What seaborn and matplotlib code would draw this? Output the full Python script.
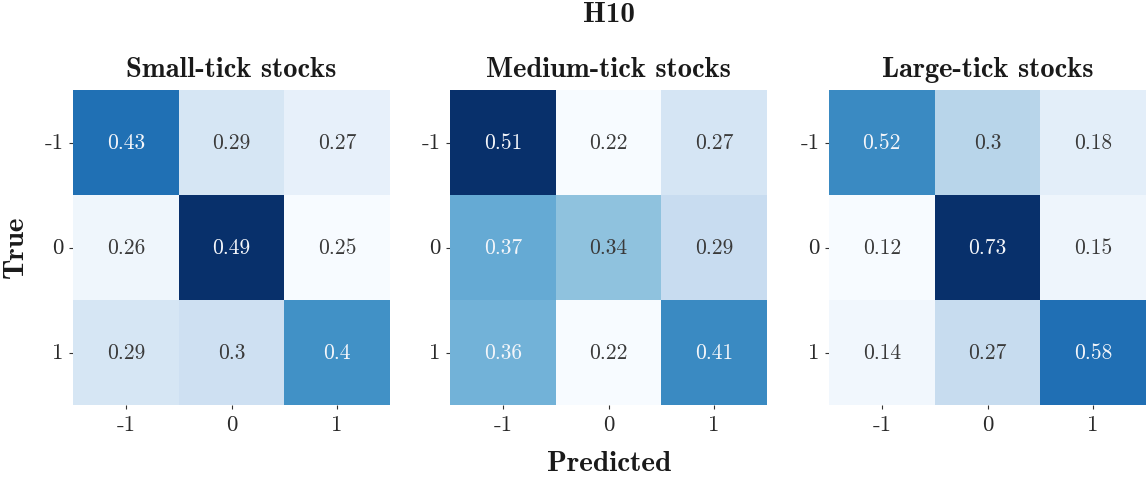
import numpy as np
import matplotlib
matplotlib.use("Agg")
import matplotlib.pyplot as plt
import seaborn as sns

labels = ["-1", "0", "1"]
titles = ["Small-tick stocks", "Medium-tick stocks", "Large-tick stocks"]
small = [[0.43, 0.29, 0.27], [0.26, 0.49, 0.25], [0.29, 0.3, 0.4]]
medium = [[0.51, 0.22, 0.27], [0.37, 0.34, 0.29], [0.36, 0.22, 0.41]]
large = [[0.52, 0.3, 0.18], [0.12, 0.73, 0.15], [0.14, 0.27, 0.58]]
matrices = [small, medium, large]

sns.set_theme(style="white")
plt.rcParams['font.family'] = ['cmr10', 'DejaVu Serif']
plt.rcParams['axes.unicode_minus'] = False
plt.rcParams['mathtext.fontset'] = 'cm'

fig = plt.figure(figsize=(11.46, 4.81), dpi=100)
lefts = [73, 450, 829]
for i, (m, t) in enumerate(zip(matrices, titles)):
    ax = fig.add_axes([lefts[i] / 1146, 75 / 481, 317 / 1146, 315 / 481])
    sns.heatmap(np.array(m), ax=ax, cmap="Blues", annot=True, fmt="g", cbar=False,
                annot_kws={"fontsize": 15.5, "family": "cmr10"},
                xticklabels=labels, yticklabels=labels)
    for txt in ax.texts:
        c = matplotlib.colors.to_rgb(txt.get_color())
        if sum(c) < 1.5:
            txt.set_color('#3a3a3a')
        else:
            txt.set_color('#f4f6fa')
    ax.set_title(t, fontsize=20.5, family="cmb10", pad=10, color='#1a1a1a')
    ax.tick_params(axis='both', labelsize=16.5, length=3, left=True, bottom=True, width=0.8,
                   color='#333333', pad=4, labelcolor='#2a2a2a')
    ax.set_yticklabels(labels, rotation=0, family="cmr10")
    ax.set_xticklabels(labels, family="cmr10")
    for s in ax.spines.values():
        s.set_visible(False)

fig.text(609 / 1146, 1 - 15 / 481, "H10", ha="center", va="center", fontsize=21, family="cmb10", color='#1a1a1a')
fig.text(609 / 1146, 1 - 464 / 481, "Predicted", ha="center", va="center", fontsize=21, family="cmb10", color='#1a1a1a')
fig.text(16 / 1146, 1 - 247 / 481, "True", ha="center", va="center", fontsize=21, family="cmb10", rotation=90, color='#1a1a1a')

fig.savefig("out.png", dpi=100)
